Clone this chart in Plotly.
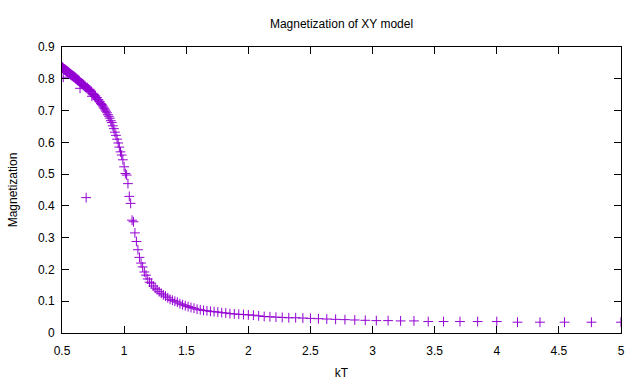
import plotly.graph_objects as go

# Temperatures kT (x) and magnetization values (y)
kT = [
    0.5, 0.5025, 0.5051, 0.5076, 0.5102, 0.5128, 0.5155, 0.5181, 0.5208, 0.5236,
    0.5263, 0.5291, 0.5319, 0.5348, 0.5376, 0.5405, 0.5435, 0.5464, 0.5495, 0.5525,
    0.5556, 0.5587, 0.5618, 0.5650, 0.5682, 0.5714, 0.5747, 0.5780, 0.5814, 0.5848,
    0.5882, 0.5917, 0.5952, 0.5988, 0.6024, 0.6061, 0.6098, 0.6135, 0.6173, 0.6211,
    0.625, 0.6289, 0.6329, 0.6369, 0.6410, 0.6452, 0.6494, 0.6536, 0.6579, 0.6623,
    0.6667, 0.6711, 0.6757, 0.6803, 0.6849, 0.6897, 0.6944, 0.6993, 0.7042, 0.7092,
    0.7143, 0.7194, 0.7246, 0.7299, 0.7353, 0.7407, 0.7463, 0.7519, 0.7576, 0.7634,
    0.7692, 0.7752, 0.7813, 0.7874, 0.7937, 0.8, 0.8065, 0.8130, 0.8197, 0.8264,
    0.8333, 0.8403, 0.8475, 0.8547, 0.8621, 0.8696, 0.8772, 0.8850, 0.8929, 0.9009,
    0.9091, 0.9174, 0.9259, 0.9346, 0.9434, 0.9524, 0.9615, 0.9709, 0.9804, 0.9901,
    1.0, 1.0101, 1.0204, 1.0309, 1.0417, 1.0526, 1.0638, 1.0753, 1.0870, 1.0989,
    1.1111, 1.1236, 1.1364, 1.1494, 1.1628, 1.1765, 1.1905, 1.2048, 1.2195, 1.2346,
    1.25, 1.2658, 1.2821, 1.2987, 1.3158, 1.3333, 1.3514, 1.3699, 1.3889, 1.4085,
    1.4286, 1.4493, 1.4706, 1.4925, 1.5152, 1.5385, 1.5625, 1.5873, 1.6129, 1.6393,
    1.6667, 1.6949, 1.7241, 1.7544, 1.7857, 1.8182, 1.8519, 1.8868, 1.9231, 1.9608,
    2.0, 2.0408, 2.0833, 2.1277, 2.1739, 2.2222, 2.2727, 2.3256, 2.3810, 2.4390,
    2.5, 2.5641, 2.6316, 2.7027, 2.7778, 2.8571, 2.9412, 3.0303, 3.125, 3.2258,
    3.3333, 3.4483, 3.5714, 3.7037, 3.8462, 4.0, 4.1667, 4.3478, 4.5455, 4.7619,
    5.0,
]

magnetization = [
    0.836, 0.834, 0.837, 0.832, 0.805, 0.833, 0.829, 0.831, 0.828, 0.830,
    0.826, 0.828, 0.824, 0.826, 0.822, 0.825, 0.821, 0.823, 0.819, 0.821,
    0.817, 0.819, 0.815, 0.817, 0.813, 0.815, 0.811, 0.813, 0.809, 0.811,
    0.807, 0.809, 0.805, 0.807, 0.803, 0.805, 0.800, 0.802, 0.798, 0.800,
    0.795, 0.797, 0.793, 0.795, 0.790, 0.770, 0.788, 0.785, 0.787, 0.782,
    0.784, 0.779, 0.781, 0.776, 0.778, 0.773, 0.426, 0.770, 0.772, 0.767,
    0.768, 0.763, 0.765, 0.760, 0.761, 0.745, 0.753, 0.750, 0.751, 0.745,
    0.746, 0.740, 0.741, 0.735, 0.734, 0.729, 0.727, 0.722, 0.719, 0.715,
    0.711, 0.707, 0.702, 0.698, 0.693, 0.687, 0.682, 0.676, 0.668, 0.662,
    0.652, 0.643, 0.632, 0.622, 0.610, 0.598, 0.585, 0.570, 0.560, 0.545,
    0.523, 0.502, 0.497, 0.470, 0.430, 0.408, 0.355, 0.350, 0.315, 0.288,
    0.262, 0.238, 0.220, 0.208, 0.192, 0.182, 0.170, 0.160, 0.157, 0.148,
    0.141, 0.136, 0.130, 0.125, 0.120, 0.116, 0.111, 0.106, 0.103, 0.100,
    0.097, 0.092, 0.089, 0.086, 0.083, 0.080, 0.078, 0.075, 0.073, 0.071,
    0.070, 0.068, 0.067, 0.066, 0.064, 0.063, 0.061, 0.060, 0.059, 0.058,
    0.057, 0.056, 0.054, 0.052, 0.051, 0.050, 0.049, 0.048, 0.048, 0.047,
    0.046, 0.045, 0.044, 0.043, 0.042, 0.041, 0.040, 0.039, 0.039, 0.038,
    0.038, 0.036, 0.036, 0.036, 0.036, 0.036, 0.034, 0.034, 0.034, 0.034,
    0.034,
]

x_ticks = [0.5, 1, 1.5, 2, 2.5, 3, 3.5, 4, 4.5, 5]
x_tick_labels = ["0.5", "1", "1.5", "2", "2.5", "3", "3.5", "4", "4.5", "5"]
y_ticks = [0, 0.1, 0.2, 0.3, 0.4, 0.5, 0.6, 0.7, 0.8, 0.9]
y_tick_labels = ["0", "0.1", "0.2", "0.3", "0.4", "0.5", "0.6", "0.7", "0.8", "0.9"]

PURPLE = "#9400D3"
FONT = "Liberation Sans"

fig = go.Figure()
fig.add_trace(go.Scatter(
    x=kT, y=magnetization, mode="markers",
    marker=dict(symbol="cross-thin", size=7, color=PURPLE,
                line=dict(color=PURPLE, width=1)),
    showlegend=False, hoverinfo="x+y",
))

axis_common = dict(
    showline=True, linecolor="black", linewidth=1, mirror="allticks",
    ticks="inside", ticklen=7, tickwidth=1, tickcolor="black",
    showgrid=False, zeroline=False, automargin=False,
    tickfont=dict(family=FONT, size=12, color="black"),
)

fig.update_layout(
    width=640, height=384,
    margin=dict(l=62, r=19, t=47, b=51, autoexpand=False),
    paper_bgcolor="white", plot_bgcolor="white",
    title=dict(text="Magnetization of XY model", x=0.5, xref="paper",
               y=1 - 24 / 384, yref="container", yanchor="middle",
               automargin=False,
               font=dict(family=FONT, size=12, color="black")),
    xaxis=dict(range=[0.5, 5], tickvals=x_ticks, ticktext=x_tick_labels,
               title=dict(text="kT", standoff=11,
                          font=dict(family=FONT, size=12, color="black")),
               ticklabelstandoff=7, **axis_common),
    yaxis=dict(range=[0, 0.9], tickvals=y_ticks, ticktext=y_tick_labels,
               title=dict(text="Magnetization", standoff=17,
                          font=dict(family=FONT, size=12, color="black")),
               ticklabelstandoff=4, **axis_common),
)

fig.write_html("out.html",
               config={"displayModeBar": False},
               post_script="document.body.style.margin='0';document.body.style.overflow='hidden';")
